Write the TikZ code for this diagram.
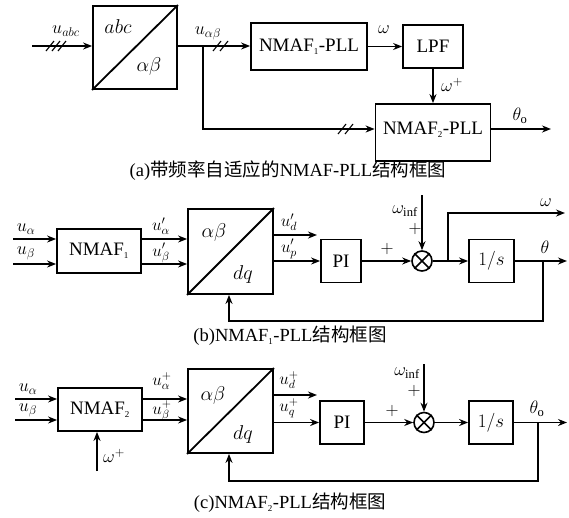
\RequirePackage{fix-cm}
\documentclass[tikz,border=0pt]{standalone}
\usepackage{fontspec}
\setmainfont{Liberation Serif}
\newfontfamily\cjk{Noto Sans CJK SC}
\usetikzlibrary{arrows.meta,calc}
\begin{document}
\begin{tikzpicture}[x=1pt,y=-1pt,
  blk/.style={draw,line width=1.8pt,inner sep=0pt,font=\fontsize{19}{22}\selectfont},
  conn/.style={line width=1.5pt},
  arr/.style={conn,-{Stealth[length=9pt,width=7pt]}},
  slash/.style={line width=1.1pt},
  lbl/.style={inner sep=0pt,font=\fontsize{18}{20}\selectfont},
  slbl/.style={inner sep=0pt,font=\fontsize{17}{19}\selectfont},
  bl/.style={inner sep=0pt,font=\fontsize{20}{22}\selectfont},
  captxt/.style={inner sep=0pt,font=\fontsize{18.5}{20}\selectfont},
  sum/.style={draw,circle,line width=1.6pt,minimum size=20pt,inner sep=0pt}
]
\useasboundingbox (0,0) rectangle (569,517);
\newcommand{\subs}[1]{\textsubscript{\fontsize{9}{9}\selectfont #1}}

% ---------------- (a) ----------------
\coordinate (ain) at (32,46);
\node[blk,minimum width=84,minimum height=83] (T1) at (135,47.5) {};
\draw[line width=1.8pt] (T1.south west) -- (T1.north east);
\node[bl] (t1a) at (118,27) {$abc$};
\node[bl] (t1b) at (149,66) {$\alpha\beta$};
\draw[arr] (ain) -- (ain -| T1.west);
\foreach \x in {50,56,62} \draw[slash] (\x-4,51) -- (\x+4,41);
\node[lbl] (luabc) at (66,31) {$u_{abc}$};

\node[blk,minimum width=116,minimum height=47] (N1) at (309,46.5) {NMAF\subs{1}-PLL};
\coordinate (br) at (203,46);
\draw[arr] (T1.east |- br) -- (N1.west |- br);
\foreach \x in {217,224} \draw[slash] (\x-4,51) -- (\x+4,41);
\node[lbl] (luab) at (208,33) {$u_{\alpha\beta}$};

\node[blk,minimum width=60,minimum height=43] (L) at (433,46.5) {LPF};
\draw[arr] (N1.east) -- (L.west);
\node[lbl] (lw1) at (384,30) {$\omega$};

\node[blk,minimum width=115,text height=30.5pt,text depth=26.5pt] (N2) at (433,132.5) {NMAF\subs{2}-PLL};
\draw[arr] (L.south) -- (L.south |- N2.north);
\node[lbl] (lwp) at (452,85) {$\omega^{+}$};
\coordinate (n2i) at ([yshift=3.5pt]N2.west);
\coordinate (n2o) at ([yshift=3.5pt]N2.east);
\draw[arr] (br) |- (n2i);
\foreach \x in {342,349} \draw[slash] (\x-4,134) -- (\x+4,124);
\coordinate (thout) at (551,129);
\draw[arr] (n2o) -- (thout);
\node[lbl] (lth0) at (520,116) {$\theta_{\mathrm{o}}$};

\node[captxt] (capa) at (288,171) {(a){\cjk 带频率自适应的}NMAF-PLL{\cjk 结构框图}};

% ---------------- (b) ----------------
\node[blk,minimum width=84,minimum height=44] (M1) at (99,251) {NMAF\subs{1}};
\coordinate (bi1) at (13,239);
\coordinate (bi2) at (13,264);
\draw[arr] (bi1) -- (bi1 -| M1.west);
\draw[arr] (bi2) -- (bi2 -| M1.west);
\node[lbl] (lua1) at (26,229) {$u_{\alpha}$};
\node[lbl] (lub1) at (26,253) {$u_{\beta}$};

\node[blk,minimum width=85,minimum height=85] (T2) at (230.5,251.5) {};
\draw[line width=1.8pt] (T2.south west) -- (T2.north east);
\node[bl] (t2a) at (214,232) {$\alpha\beta$};
\node[bl] (t2b) at (243,274) {$dq$};
\draw[arr] (bi1 -| M1.east) -- (bi1 -| T2.west);
\draw[arr] (bi2 -| M1.east) -- (bi2 -| T2.west);
\node[slbl] (lua1p) at (161,226) {$u'_{\alpha}$};
\node[slbl] (lub1p) at (161,253) {$u'_{\beta}$};

\node[blk,minimum width=40,minimum height=43] (P1) at (341,261) {PI};
\coordinate (bd) at (317,235);
\draw[arr] (bd -| T2.east) -- (bd);
\draw[arr] (T2.east |- P1.west) -- (P1.west);
\node[slbl] (lud1) at (289,222) {$u'_{d}$};
\node[slbl] (lup1) at (289,249) {$u'_{p}$};

\node[sum] (S1) at (422,261) {};
\draw[conn] (S1.north west) -- (S1.south east) (S1.north east) -- (S1.south west);
\draw[arr] (P1.east) -- (S1.west);
\coordinate (wi1) at (422,195);
\draw[arr] (wi1) -- (S1.north);
\node[lbl] (lwi1) at (405,211) {$\omega_{\mathrm{inf}}$};
\node[lbl] (lpl1) at (415,229) {$+$};
\node[lbl] (lpl2) at (387,249) {$+$};

\node[blk,minimum width=45,minimum height=43] (I1) at (491.5,261) {$1/s$};
\draw[arr] (S1.east) -- (I1.west);
\coordinate (wb) at (448,261);
\coordinate (wo) at (565,213);
\draw[arr] (wb) |- (wo);
\node[lbl] (lw2) at (546,203) {$\omega$};
\coordinate (to1) at (567,261);
\draw[arr] (I1.east) -- (to1);
\node[lbl] (lth1) at (545,247) {$\theta$};
\coordinate (fb1) at (543,261);
\coordinate (fbb1) at (229,321);
\draw[arr] (fb1) |- (fbb1) -- (fbb1 |- T2.south);

\node[captxt] (capb) at (290,336) {(b)NMAF\subs{1}-PLL{\cjk 结构框图}};

% ---------------- (c) ----------------
\node[blk,minimum width=84,minimum height=43] (M2) at (100,409.5) {NMAF\subs{2}};
\coordinate (ci1) at (15,399);
\coordinate (ci2) at (15,420);
\draw[arr] (ci1) -- (ci1 -| M2.west);
\draw[arr] (ci2) -- (ci2 -| M2.west);
\node[lbl] (lua2) at (28,389) {$u_{\alpha}$};
\node[lbl] (lub2) at (28,410) {$u_{\beta}$};
\coordinate (wpin) at (97,471);
\draw[arr] (wpin) -- (wpin |- M2.south);
\node[lbl] (lwp2) at (114,456) {$\omega^{+}$};

\node[blk,minimum width=85,minimum height=84] (T3) at (230.5,411) {};
\draw[line width=1.8pt] (T3.south west) -- (T3.north east);
\node[bl] (t3a) at (213,395) {$\alpha\beta$};
\node[bl] (t3b) at (243,434) {$dq$};
\draw[arr] (ci1 -| M2.east) -- (ci1 -| T3.west);
\draw[arr] (ci2 -| M2.east) -- (ci2 -| T3.west);
\node[slbl] (lua2p) at (162,381) {$u^{+}_{\alpha}$};
\node[slbl] (lub2p) at (162,411) {$u^{+}_{\beta}$};

\node[blk,minimum width=44,minimum height=43] (P2) at (342,422.5) {PI};
\coordinate (cd) at (317,395);
\draw[arr] (cd -| T3.east) -- (cd);
\draw[arr] (T3.east |- P2.west) -- (P2.west);
\node[slbl] (lud2) at (289,380) {$u^{+}_{d}$};
\node[slbl] (luq2) at (289,408) {$u^{+}_{q}$};

\node[sum] (S2) at (424,422.5) {};
\draw[conn] (S2.north west) -- (S2.south east) (S2.north east) -- (S2.south west);
\draw[arr] (P2.east) -- (S2.west);
\coordinate (wi2) at (424,364);
\draw[arr] (wi2) -- (S2.north);
\node[lbl] (lwi2) at (407,373) {$\omega_{\mathrm{inf}}$};
\node[lbl] (lpl3) at (414,391) {$+$};
\node[lbl] (lpl4) at (392,411) {$+$};

\node[blk,minimum width=44,minimum height=43] (I2) at (491,422.5) {$1/s$};
\draw[arr] (S2.east) -- (I2.west);
\coordinate (to2) at (567,422.5);
\draw[arr] (I2.east) -- (to2);
\node[lbl] (lth2) at (537,409) {$\theta_{\mathrm{o}}$};
\coordinate (fb2) at (538,422.5);
\coordinate (fbb2) at (229,481);
\draw[arr] (fb2) |- (fbb2) -- (fbb2 |- T3.south);

\node[captxt] (capc) at (290,503) {(c)NMAF\subs{2}-PLL{\cjk 结构框图}};
\end{tikzpicture}
\end{document}
